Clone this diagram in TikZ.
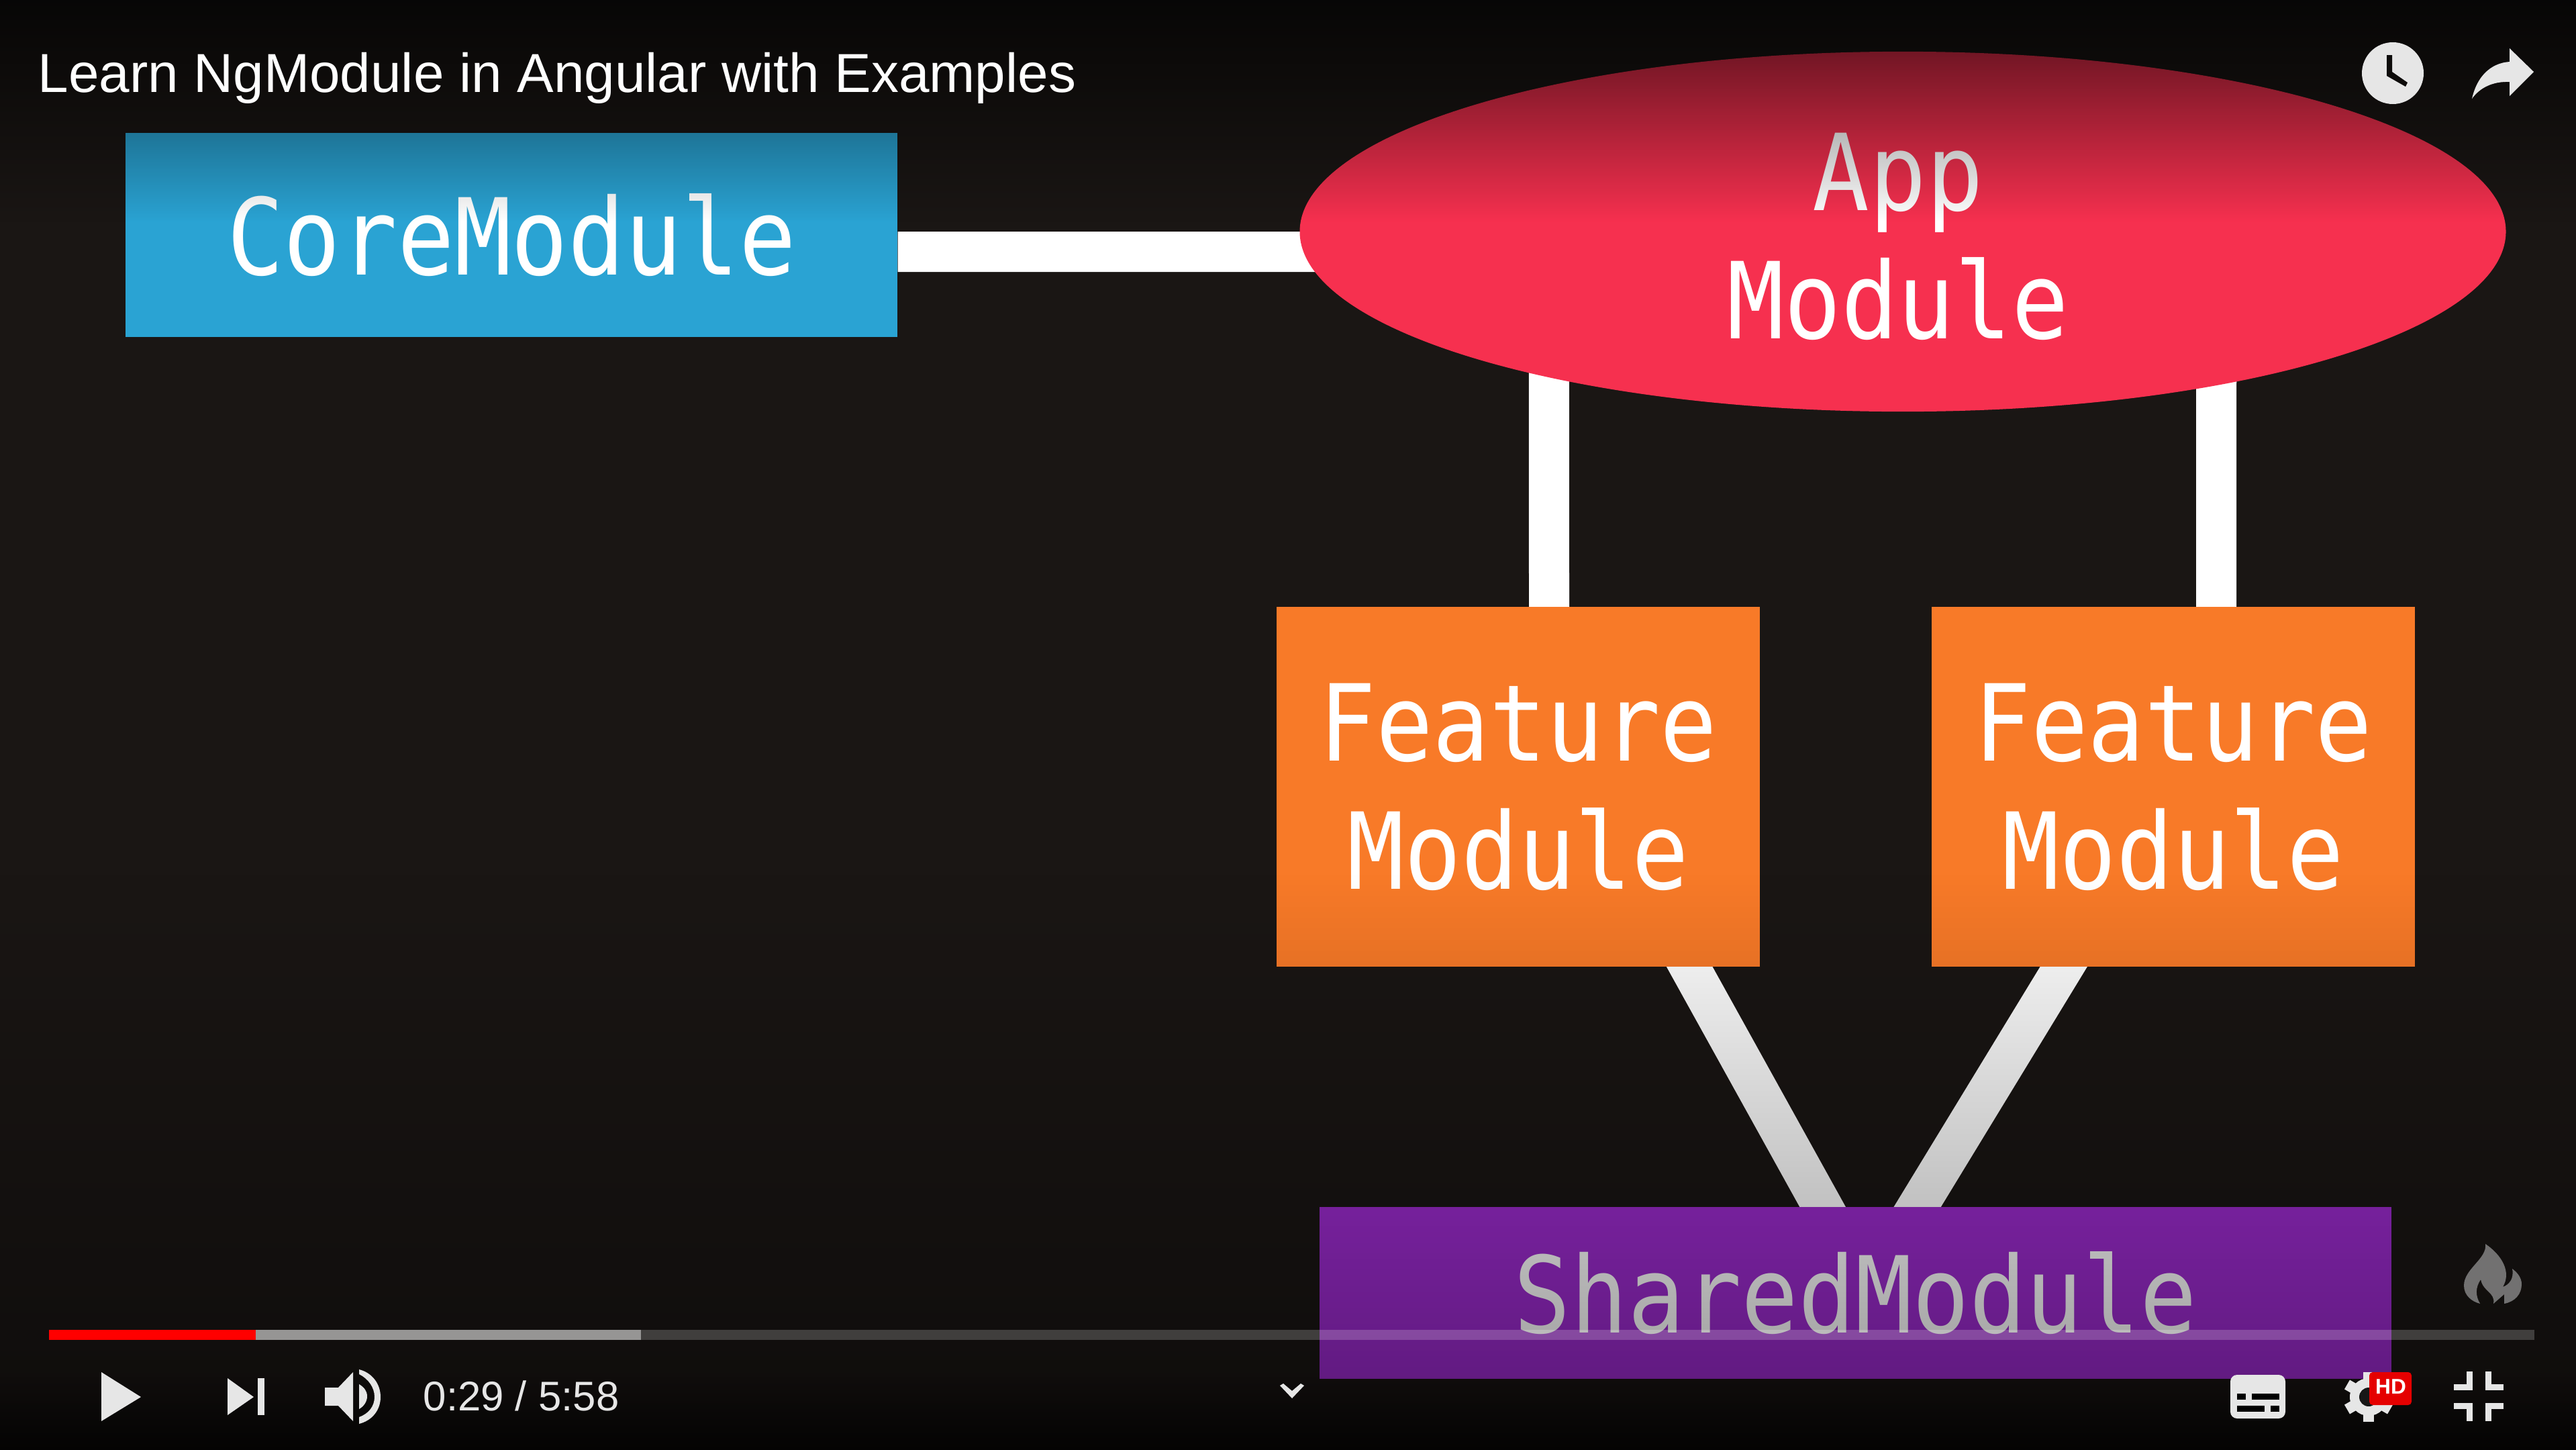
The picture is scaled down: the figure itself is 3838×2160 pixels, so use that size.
\documentclass[tikz,border=0pt]{standalone}
\usepackage{fontspec}
\setmainfont{Liberation Sans}
\newfontfamily\labelfont[FakeStretch=0.89]{DejaVu Sans Mono}
\usetikzlibrary{shapes.geometric, fadings, backgrounds}

\definecolor{screenbg}{HTML}{1A1614}
\definecolor{corecol}{HTML}{2AA3D3}
\definecolor{appcol}{HTML}{F6304F}
\definecolor{featcol}{HTML}{F87A28}
\definecolor{sharedcol}{HTML}{9C2BCE}
\definecolor{iconcol}{HTML}{E6E6E6}

\tikzfading[name=fadetop, top color=transparent!30, bottom color=transparent!100]
\tikzfading[name=fadelow, top color=transparent!100, bottom color=transparent!58]
\tikzfading[name=fadefoot, top color=transparent!100, bottom color=transparent!30]

\tikzset{
    modulebox/.style={rectangle, inner sep=0pt, text=white, align=center,
        font=\labelfont\fontsize{45}{54.3}\selectfont},
    linkline/.style={draw=white, line width=60*0.01cm},
    icon/.style={fill=iconcol}
}

\begin{document}
\begin{tikzpicture}[x=0.01cm, y=-0.01cm]
    \useasboundingbox (0,0) rectangle (3838,2160);

    % Draw modules
    \node[modulebox, fill=corecol, minimum width=11.49cm, minimum height=3.04cm] (core) at (762,350) {CoreModule};
    \node[modulebox, ellipse, fill=appcol, minimum width=17.96cm, minimum height=5.36cm] (app) at (2835,345) {\rule{0pt}{37pt}App\hspace*{0.14cm}\\Module\hspace*{0.14cm}};
    \node[modulebox, fill=featcol, minimum width=7.2cm, minimum height=5.35cm] (featA) at (2262,1172) {Feature\\Module};
    \node[modulebox, fill=featcol, minimum width=7.2cm, minimum height=5.35cm] (featB) at (3238,1172) {Feature\\Module};
    \node[modulebox, fill=sharedcol, minimum width=15.97cm, minimum height=2.56cm] (shared) at (2764.5,1926) {SharedModule};

    % Draw links behind the modules
    \begin{pgfonlayer}{background}
      \fill[screenbg] (0,0) rectangle (3838,2160);
      \draw[linkline] ([yshift=-0.25cm]core.east) -- ([xshift=1cm, yshift=-0.3cm]app.west);
      \draw[linkline] ([xshift=0.46cm, yshift=-0.2cm]featA.north) -- ([xshift=-5.27cm, yshift=1.5cm]app.south);
      \draw[linkline] ([xshift=0.64cm, yshift=-0.2cm]featB.north) -- ([xshift=4.67cm, yshift=1.5cm]app.south);
      \draw[linkline] ([xshift=2.33cm, yshift=0.4cm]featA.south) -- ([xshift=-0.265cm, yshift=-0.41cm]shared.north);
      \draw[linkline] ([xshift=-1.39cm, yshift=0.4cm]featB.south) -- ([xshift=0.675cm, yshift=-0.41cm]shared.north);
    \end{pgfonlayer}

    % Dark bands of the player
    \fill[black, path fading=fadetop] (0,0) rectangle (3838,330);
    \fill[black, path fading=fadelow] (0,1300) rectangle (3838,2160);
    \fill[black, path fading=fadefoot] (0,2050) rectangle (3838,2160);

    % Title and top icons
    \node[anchor=base west, inner sep=0pt, text=white, font=\fontsize{23.27}{28}\selectfont] (title) at (56,137) {Learn NgModule in Angular with Examples};
    \fill[icon] (3565,109) circle (46);
    \fill[screenbg!50!black] (3556,82) -- (3564,82) -- (3564,107) -- (3587,123) -- (3584,129) -- (3556,113) -- cycle;
    \fill[icon] (3775,107) -- (3739,72) -- (3739,92) .. controls (3710,94) and (3690,115) .. (3683,147) .. controls (3695,130) and (3715,121) .. (3739,122) -- (3739,143) -- cycle;

    % Progress bar
    \fill[white, fill opacity=0.2] (73,1981) rectangle (3776,1996);
    \fill[white, fill opacity=0.45] (381,1981) rectangle (955,1996);
    \fill[red] (73,1981) rectangle (381,1996);

    % Play, next, volume
    \fill[icon] (151,2044) -- (210,2081) -- (151,2117) -- cycle;
    \fill[icon] (339,2053) -- (378,2081) -- (339,2108) -- cycle;
    \fill[icon] (384,2053) rectangle (394,2108);
    \fill[icon] (484,2067) -- (504,2067) -- (526,2044) -- (526,2117) -- (504,2094) -- (484,2094) -- cycle;
    \fill[icon] (535,2062) .. controls (542,2066) and (547,2072) .. (547,2080) .. controls (547,2088) and (542,2095) .. (535,2099) -- cycle;
    \fill[icon] (535,2040) .. controls (555,2045) and (567,2062) .. (567,2081) .. controls (567,2100) and (555,2116) .. (535,2121) -- (535,2111) .. controls (549,2106) and (558,2095) .. (558,2081) .. controls (558,2067) and (549,2054) .. (535,2047) -- cycle;
    \node[anchor=base west, inner sep=0pt, text=iconcol, font=\fontsize{17.55}{22}\selectfont] (time) at (630,2101) {0:29 / 5:58};
    \fill[icon] (1907,2064) -- (1912,2061) -- (1925,2072) -- (1938,2061) -- (1943,2064) -- (1925,2083) -- cycle;

    % Flame
    \fill[gray!90!iconcol, fill opacity=0.8] (3703,1853) .. controls (3706,1875) and (3671,1890) .. (3671,1915) .. controls (3671,1930) and (3683,1939) .. (3695,1942) .. controls (3688,1930) and (3688,1918) .. (3696,1906) .. controls (3700,1925) and (3718,1925) .. (3715,1942) -- (3731,1928) -- (3731,1942) .. controls (3747,1939) and (3757,1928) .. (3757,1913) .. controls (3757,1903) and (3750,1895) .. (3743,1890) .. controls (3746,1905) and (3738,1914) .. (3729,1917) .. controls (3742,1895) and (3728,1870) .. (3703,1853) -- cycle;

    % Captions button
    \fill[icon, rounded corners=10*0.01cm] (3323,2048) rectangle (3405,2113);
    \foreach \xa/\xb/\ya in {3333/3346/2076, 3355/3396/2076, 3333/3374/2094, 3383/3396/2094} {
      \fill[black] (\xa,\ya) rectangle (\xb,\ya+9);
    }

    % Settings gear with badge
    \fill[icon] (3529,2081) circle (28);
    \foreach \a in {0,60,...,300} {
      \draw[iconcol, line width=16*0.01cm] (3529,2081) -- ++(\a+30:37);
    }
    \fill[black!90!iconcol] (3529,2081) circle (14);
    \fill[red!90!black, rounded corners=5*0.01cm] (3530,2044) rectangle (3593,2093);
    \node[inner sep=0pt, text=white, font=\bfseries\fontsize{9}{10}\selectfont] (hd) at (3562,2066) {HD};

    % Fullscreen exit
    \foreach \sx/\sy in {1/1, -1/1, 1/-1, -1/-1} {
      \draw[iconcol, line width=9*0.01cm] (3693-37*\sx,2080-14*\sy) -- (3693-14*\sx,2080-14*\sy) -- (3693-14*\sx,2080-37*\sy);
    }
\end{tikzpicture}
\end{document}
